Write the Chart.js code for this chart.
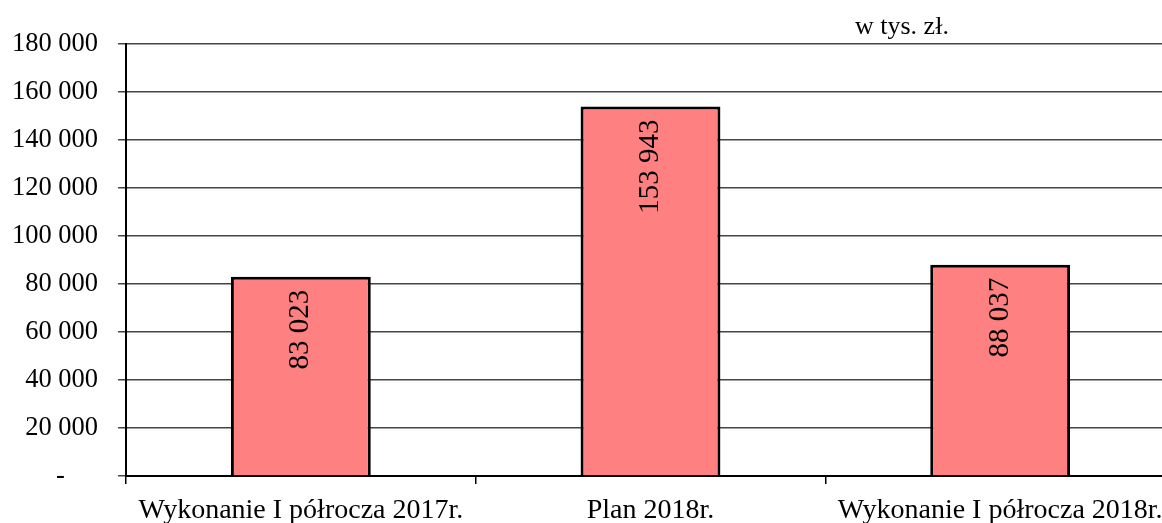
<!DOCTYPE html>
<html>
<head>
<meta charset="utf-8">
<script src="https://cdn.jsdelivr.net/npm/chart.js"></script>
<style>
  html, body { margin: 0; padding: 0; background: #fff; overflow: hidden; }
  #wrap { position: relative; width: 1175px; height: 523px; }
  #unit {
    position: absolute; left: 855px; top: 11px;
    font-family: 'Liberation Serif', serif; font-size: 26px; color: #000;
  }
</style>
</head>
<body>
<div id="wrap">
  <canvas id="chart" width="1175" height="523"></canvas>
  <div id="unit">w tys. zł.</div>
</div>
<script>
// dane
const categories = ['Wykonanie I półrocza 2017r.', 'Plan 2018r.', 'Wykonanie I półrocza 2018r.'];
const values = [83023, 153943, 88037];
const yTicks = [0, 20000, 40000, 60000, 80000, 100000, 120000, 140000, 160000, 180000];

// format księgowy: spacja jako separator tysięcy, "-" dla zera
const fmt = v => v === 0 ? '-' + '\u00a0'.repeat(5) : String(v).replace(/\B(?=(\d{3})+(?!\d))/g, ' ');
const serif = "'Liberation Serif', 'Times New Roman', serif";

// etykiety pionowe w słupkach
const barLabels = {
  id: 'barLabels',
  afterDatasetsDraw(chart) {
    const ctx = chart.ctx;
    const meta = chart.getDatasetMeta(0);
    ctx.save();
    ctx.font = `29px ${serif}`;
    ctx.fillStyle = '#000';
    ctx.textAlign = 'right';
    ctx.textBaseline = 'middle';
    meta.data.forEach((bar, i) => {
      ctx.save();
      ctx.translate(bar.x, bar.y + 13);
      ctx.rotate(-Math.PI / 2);
      ctx.fillText(fmt(values[i]), 0, 0);
      ctx.restore();
    });
    ctx.restore();
  }
};

new Chart(document.getElementById('chart'), {
  type: 'bar',
  data: {
    labels: categories,
    datasets: [{
      data: values,
      backgroundColor: '#FF8080',
      borderColor: '#000',
      borderWidth: 3,
      barPercentage: 0.4,
      categoryPercentage: 1
    }]
  },
  options: {
    responsive: false,
    animation: false,
    layout: { padding: { top: 44, left: 0, right: 0, bottom: 0 } },
    plugins: { legend: { display: false }, tooltip: { enabled: false } },
    scales: {
      y: {
        min: 0, max: 180000,
        afterBuildTicks: s => { s.ticks = yTicks.map(v => ({ value: v })); },
        afterFit: s => { s.width = 126; },
        border: { color: '#000', width: 2 },
        grid: { color: '#444', lineWidth: 1.5, tickLength: 8 },
        ticks: {
          font: { family: serif, size: 26.5 }, color: '#000', padding: 20,
          callback: v => fmt(v)
        }
      },
      x: {
        afterFit: s => { s.height = 47; },
        border: { color: '#000', width: 2 },
        grid: { drawOnChartArea: false, color: '#000', lineWidth: 1.5, tickLength: 8 },
        ticks: { font: { family: serif, size: 28 }, color: '#000', padding: 10, maxRotation: 0 }
      }
    }
  },
  plugins: [barLabels]
});
</script>
</body>
</html>
